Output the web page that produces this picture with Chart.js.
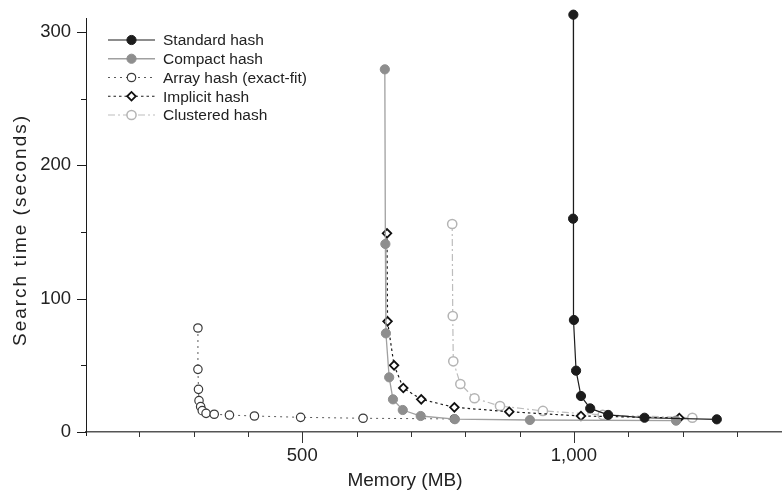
<!DOCTYPE html>
<html>
<head>
<meta charset="utf-8">
<script src="https://cdn.jsdelivr.net/npm/chart.js@4"></script>
<style>
  html, body { margin: 0; padding: 0; background: #fff; }
  canvas { display: block; }
</style>
</head>
<body>
<canvas id="chart" width="782" height="493"></canvas>
<script>
// ── Measurements: memory (MB) vs search time (s) ──
const standardMem  = [999, 998.5, 1000, 1004, 1013, 1030, 1063, 1130, 1263];
const standardTime = [313, 160, 84, 46, 27, 17.7, 12.8, 10.7, 9.5];

const compactMem  = [652, 653, 654, 660, 667, 685, 718, 781, 919, 1188];
const compactTime = [272, 141, 74, 41, 24.5, 16.5, 12, 9.6, 9, 8.5];

const arrayMem  = [308, 308, 309, 310, 313, 316, 323, 338, 366, 412, 497, 612, 780];
const arrayTime = [78, 47, 32, 23.5, 19, 16, 14, 13.3, 12.7, 12, 11, 10.3, 9.8];

const implicitMem  = [656, 657, 669, 686, 719, 780, 881, 1013, 1194];
const implicitTime = [149, 83, 50, 33, 24.5, 18.5, 15.2, 12, 10.5];

const clusteredMem  = [776, 777, 778, 791, 817, 864, 943, 1053, 1218];
const clusteredTime = [156, 87, 53, 36, 25.3, 19.5, 15.8, 12.8, 10.7];

const seriesNames = ['Standard hash', 'Compact hash', 'Array hash (exact-fit)', 'Implicit hash', 'Clustered hash'];

// axis ticks
const xMajor = [500, 1000];
const xMinor = [200, 300, 400, 600, 700, 800, 900, 1100, 1200, 1300];
const yMajor = [0, 100, 200, 300];
const yMinor = [50, 150, 250];

const FONT = '"Liberation Sans", Arial, Helvetica, sans-serif';

function pts(xs, ys) {
  return xs.map((x, i) => ({ x, y: ys[i] }));
}

const datasets = [
  {
    label: seriesNames[0],
    data: pts(standardMem, standardTime),
    borderColor: '#1c1c1c', borderWidth: 1.2,
    pointStyle: 'circle', pointRadius: 4.6,
    pointBackgroundColor: '#1c1c1c', pointBorderColor: '#1c1c1c', pointBorderWidth: 1
  },
  {
    label: seriesNames[1],
    data: pts(compactMem, compactTime),
    borderColor: '#a0a0a0', borderWidth: 1.3,
    pointStyle: 'circle', pointRadius: 4.6,
    pointBackgroundColor: '#8e8e8e', pointBorderColor: '#8e8e8e', pointBorderWidth: 1
  },
  {
    label: seriesNames[2],
    data: pts(arrayMem, arrayTime),
    borderColor: '#5a5a5a', borderWidth: 1, borderDash: [2, 4],
    pointStyle: 'circle', pointRadius: 4.2,
    pointBackgroundColor: '#fff', pointBorderColor: '#3a3a3a', pointBorderWidth: 1.2
  },
  {
    label: seriesNames[3],
    data: pts(implicitMem, implicitTime),
    borderColor: '#1c1c1c', borderWidth: 1.2, borderDash: [2.5, 3],
    pointStyle: 'rectRot', pointRadius: 4.3,
    pointBackgroundColor: '#fff', pointBorderColor: '#111', pointBorderWidth: 1.8
  },
  {
    label: seriesNames[4],
    data: pts(clusteredMem, clusteredTime),
    borderColor: '#bdbdbd', borderWidth: 1.2, borderDash: [7, 3, 2, 3],
    pointStyle: 'circle', pointRadius: 4.6,
    pointBackgroundColor: '#fff', pointBorderColor: '#b4b4b4', pointBorderWidth: 1.5
  }
].map(d => Object.assign({ showLine: true, tension: 0, clip: false }, d));

// scales keep no extra label padding so the plot area is exactly what afterFit says
function noPadding(s) {
  s.paddingTop = 0; s.paddingBottom = 0; s.paddingLeft = 0; s.paddingRight = 0;
}

// ── Tick marks, axis titles and legend drawn on the canvas ──
const decorations = {
  id: 'decorations',
  afterDraw(c) {
    const ctx = c.ctx;
    const xs = c.scales.x, ys = c.scales.y;
    const area = c.chartArea;
    ctx.save();

    // y ticks (outward, left)
    ctx.strokeStyle = '#1c1c1c';
    ctx.lineWidth = 1;
    yMajor.concat(yMinor).forEach(v => {
      const len = yMajor.includes(v) ? 9 : 5;
      const y = Math.round(ys.getPixelForValue(v)) + 0.5;
      ctx.beginPath();
      ctx.moveTo(area.left - len, y);
      ctx.lineTo(area.left, y);
      ctx.stroke();
    });
    // little overhang of the y axis below the origin
    ctx.beginPath();
    ctx.moveTo(Math.round(area.left) + 0.5, area.bottom);
    ctx.lineTo(Math.round(area.left) + 0.5, area.bottom + 4);
    ctx.stroke();

    // x ticks (outward, down)
    ctx.strokeStyle = '#333';
    xMajor.concat(xMinor).forEach(v => {
      const len = xMajor.includes(v) ? 11 : 5;
      const x = Math.round(xs.getPixelForValue(v)) + 0.5;
      ctx.beginPath();
      ctx.moveTo(x, area.bottom);
      ctx.lineTo(x, area.bottom + len);
      ctx.stroke();
    });

    // axis titles
    ctx.fillStyle = '#222';
    ctx.font = '19px ' + FONT;
    ctx.textAlign = 'center';
    ctx.textBaseline = 'middle';
    ctx.fillText('Memory (MB)', 405, 481);

    ctx.save();
    ctx.translate(21, 230);
    ctx.rotate(-Math.PI / 2);
    ctx.letterSpacing = '2px';
    ctx.fillText('Search time (seconds)', 0, 0);
    ctx.restore();

    // legend: line sample with marker, then label
    ctx.font = '15.5px ' + FONT;
    ctx.textAlign = 'left';
    c.data.datasets.forEach((d, i) => {
      const y = 40 + i * 18.75;
      ctx.save();
      ctx.strokeStyle = d.borderColor;
      ctx.lineWidth = d.borderWidth;
      ctx.setLineDash(d.borderDash || []);
      ctx.beginPath();
      ctx.moveTo(108, y);
      ctx.lineTo(155, y);
      ctx.stroke();
      ctx.setLineDash([]);
      ctx.fillStyle = d.pointBackgroundColor;
      ctx.strokeStyle = d.pointBorderColor;
      ctx.lineWidth = d.pointBorderWidth;
      Chart.helpers.drawPoint(ctx, {
        pointStyle: d.pointStyle, radius: d.pointRadius, rotation: 0,
        borderWidth: d.pointBorderWidth
      }, 131.5, y);
      ctx.restore();
      ctx.fillStyle = '#222';
      ctx.fillText(d.label, 163, y + 1);
    });

    ctx.restore();
  }
};

new Chart(document.getElementById('chart'), {
  type: 'scatter',
  data: { datasets },
  options: {
    responsive: false,
    animation: false,
    layout: { autoPadding: false, padding: { top: 18, right: 0, left: 0, bottom: 0 } },
    plugins: { legend: { display: false }, tooltip: { enabled: false } },
    scales: {
      x: {
        type: 'linear',
        min: 102, max: 1383,
        afterBuildTicks: s => { s.ticks = xMajor.map(v => ({ value: v })); },
        afterFit: s => { s.height = 61; noPadding(s); },
        grid: { display: false, drawTicks: false },
        border: { display: true, color: '#555', width: 1.5 },
        ticks: {
          color: '#222', padding: 13, maxRotation: 0, autoSkip: false,
          font: { family: FONT, size: 18.5 },
          callback: v => v.toLocaleString('en-US')
        }
      },
      y: {
        type: 'linear',
        min: 0, max: 310.5,
        afterBuildTicks: s => { s.ticks = yMajor.map(v => ({ value: v })); },
        afterFit: s => { s.width = 86; noPadding(s); },
        grid: { display: false, drawTicks: false },
        border: { display: true, color: '#1c1c1c', width: 1 },
        ticks: {
          color: '#222', padding: 15, autoSkip: false,
          font: { family: FONT, size: 18.5 }
        }
      }
    }
  },
  plugins: [decorations]
});
</script>
</body>
</html>
